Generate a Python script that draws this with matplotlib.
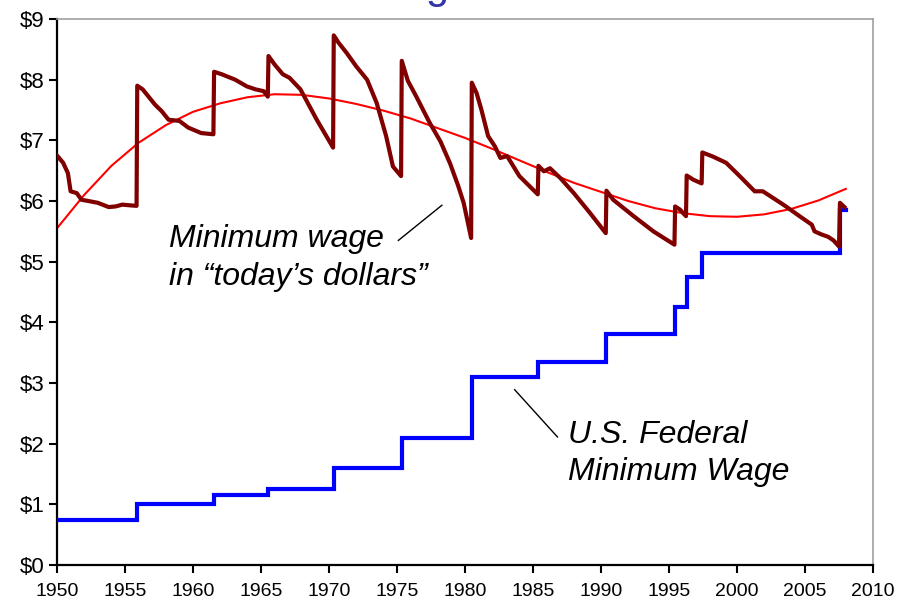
import matplotlib
matplotlib.use("Agg")
import matplotlib.pyplot as plt
from matplotlib.ticker import FuncFormatter

# ---------------- data ----------------
# U.S. Federal minimum wage (nominal), step start years and levels
nominal_years = [1950.0, 1955.9, 1961.55, 1965.55, 1970.35, 1975.35, 1980.5,
                 1985.4, 1990.4, 1995.45, 1996.3, 1997.45, 2007.57, 2008.0]
nominal_values = [0.75, 1.00, 1.15, 1.25, 1.60, 2.10, 3.10,
                  3.35, 3.80, 4.25, 4.75, 5.15, 5.85, 5.85]

# Minimum wage in "today's dollars"
real_years = [1950.0, 1950.45, 1950.8, 1951.0, 1951.45, 1951.8, 1952.3, 1953.0,
              1953.8, 1954.3, 1954.8, 1955.3, 1955.85, 1955.9, 1956.3, 1957.2,
              1957.7, 1958.2, 1959.0, 1959.65, 1960.6, 1961.5, 1961.55, 1962.1,
              1963.1, 1963.95, 1964.6, 1965.2, 1965.5, 1965.55, 1966.0, 1966.6,
              1967.1, 1967.9, 1969.1, 1970.3, 1970.35, 1970.7, 1971.3, 1972.0,
              1972.8, 1973.5, 1974.2, 1974.7, 1975.3, 1975.35, 1975.8, 1976.4,
              1977.4, 1978.2, 1978.9, 1979.5, 1979.9, 1980.45, 1980.5, 1980.85,
              1981.2, 1981.7, 1982.2, 1982.6, 1983.1, 1984.0, 1985.35, 1985.4,
              1985.8, 1986.25, 1987.0, 1988.0, 1989.2, 1990.35, 1990.4, 1990.9,
              1992.4, 1993.85, 1995.4, 1995.45, 1995.8, 1996.25, 1996.3, 1996.8,
              1997.4, 1997.45, 1998.25, 1999.2, 2000.2, 2001.3, 2001.9, 2003.2,
              2003.6, 2004.6, 2005.5, 2005.7, 2006.2, 2006.7, 2007.1, 2007.5,
              2007.57, 2007.9]
real_values = [6.75, 6.63, 6.46, 6.16, 6.13, 6.02, 6.00, 5.97,
               5.90, 5.91, 5.94, 5.93, 5.92, 7.90, 7.84, 7.59,
               7.48, 7.34, 7.32, 7.21, 7.12, 7.10, 8.13, 8.09,
               8.00, 7.89, 7.84, 7.81, 7.72, 8.39, 8.25, 8.09,
               8.03, 7.84, 7.34, 6.88, 8.73, 8.61, 8.44, 8.22,
               8.00, 7.62, 7.07, 6.57, 6.41, 8.31, 7.98, 7.73,
               7.29, 6.98, 6.62, 6.25, 5.97, 5.39, 7.95, 7.78,
               7.51, 7.07, 6.90, 6.71, 6.74, 6.41, 6.11, 6.58,
               6.49, 6.54, 6.38, 6.13, 5.80, 5.47, 6.17, 6.02,
               5.75, 5.50, 5.28, 5.91, 5.86, 5.75, 6.42, 6.35,
               6.29, 6.80, 6.73, 6.63, 6.41, 6.16, 6.16, 5.97,
               5.91, 5.75, 5.61, 5.50, 5.45, 5.41, 5.35, 5.25,
               5.97, 5.90]

# Trend line of the real minimum wage
trend_years = [1950, 1952, 1954, 1956, 1958, 1960, 1962, 1964, 1966, 1968,
               1970, 1972, 1974, 1976, 1978, 1980, 1982, 1984, 1986, 1988,
               1990, 1992, 1994, 1996, 1998, 2000, 2002, 2004, 2006, 2008]
trend_values = [5.55, 6.10, 6.58, 6.96, 7.25, 7.47, 7.61, 7.71, 7.76, 7.75,
                7.69, 7.60, 7.49, 7.36, 7.20, 7.04, 6.86, 6.67, 6.48, 6.30,
                6.15, 6.00, 5.88, 5.80, 5.75, 5.74, 5.78, 5.87, 6.01, 6.20]

x_ticks = list(range(1950, 2011, 5))
y_ticks = list(range(0, 10))

# ---------------- figure ----------------
plt.rcParams['font.family'] = ['Liberation Sans', 'DejaVu Sans']
fig = plt.figure(figsize=(8.99, 6.06), dpi=100)
ax = fig.add_axes([57/899, 1 - 565/606, (873 - 57)/899, (565 - 19)/606])

ax.plot(trend_years, trend_values, color='#ff0000', lw=1.5, zorder=2)
ax.plot(nominal_years, nominal_values, color='#0000ff', lw=3,
        drawstyle='steps-post', zorder=3, solid_joinstyle='miter')
ax.plot(real_years, real_values, color='#800000', lw=3, zorder=4,
        solid_joinstyle='round')

ax.set_xlim(1950, 2010)
ax.set_ylim(0, 9)
ax.set_xticks(x_ticks)
ax.set_yticks(y_ticks)
ax.yaxis.set_major_formatter(FuncFormatter(lambda v, p: f"${int(v)}"))
ax.tick_params(axis='y', labelsize=16, length=6, width=1.5, direction='out', pad=3)
ax.tick_params(axis='x', labelsize=14, length=6, width=1.5, direction='out', pad=7)

for s in ('left', 'bottom'):
    ax.spines[s].set_color('black')
    ax.spines[s].set_linewidth(1.6)
for s in ('top', 'right'):
    ax.spines[s].set_color('#a0a0a0')
    ax.spines[s].set_linewidth(1.2)

# annotations
fs = 23
ax.text(1958.2, 5.25, "Minimum wage", fontsize=fs, style='italic', ha='left', va='baseline')
ax.text(1958.2, 4.62, "in \u201ctoday\u2019s dollars\u201d", fontsize=fs, style='italic',
        ha='left', va='baseline')
ax.plot([1975.1, 1978.3], [5.35, 5.93], color='black', lw=1)

ax.text(1987.6, 2.01, "U.S. Federal", fontsize=fs, style='italic', ha='left', va='baseline')
ax.text(1987.6, 1.40, "Minimum Wage", fontsize=fs, style='italic', ha='left', va='baseline')
ax.plot([1983.65, 1986.8], [2.89, 2.11], color='black', lw=1)

# title, mostly cut off at the top of the image (as in the reference)
fig.text(472/899, 1.003, "Minimum Wage", fontsize=30, color='#3333aa',
         ha='right', va='baseline')

fig.savefig("out.png", dpi=100)
